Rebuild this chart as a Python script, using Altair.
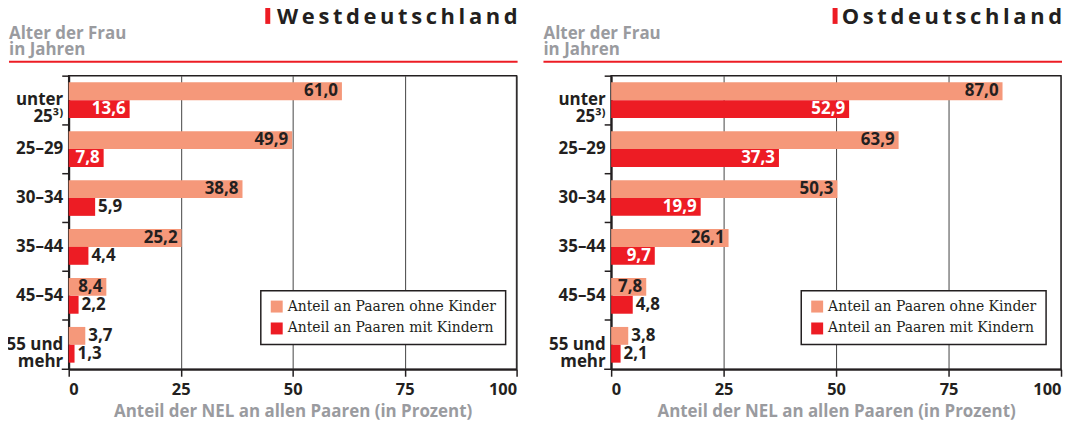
import altair as alt
import pandas as pd

# ---------------- data ----------------
ages = ["unter|25³⁾", "25–29", "30–34", "35–44", "45–54", "55 und|mehr"]
series = ["Anteil an Paaren ohne Kinder", "Anteil an Paaren mit Kindern"]
west_ohne = [61.0, 49.9, 38.8, 25.2, 8.4, 3.7]
west_mit = [13.6, 7.8, 5.9, 4.4, 2.2, 1.3]
ost_ohne = [87.0, 63.9, 50.3, 26.1, 7.8, 3.8]
ost_mit = [52.9, 37.3, 19.9, 9.7, 4.8, 2.1]
x_ticks = [0, 25, 50, 75, 100]
titles = ["Westdeutschland", "Ostdeutschland"]
y_title = "Alter der Frau\nin Jahren"
x_title = "Anteil der NEL an allen Paaren (in Prozent)"

# ---------------- style ----------------
DARK = "#231f20"
GRAY = "#9a9b9f"
RED = "#ed1c24"
SALMON = "#f5987a"
SANS = "Open Sans"
SERIF = "DejaVu Serif"
H = 295


def spaced(s):
    return "\u2009".join(list(s))


def panel(title, ohne, mit, width, bar_x, head_left, legend_x):
    df = pd.DataFrame({
        "age": ages * 2,
        "series": [series[0]] * len(ages) + [series[1]] * len(ages),
        "value": ohne + mit,
    })
    df["label"] = df["value"].map(lambda v: f"{v:.1f}".replace(".", ","))
    base = alt.Chart(df)

    y = alt.Y("age:N", sort=ages,
              scale=alt.Scale(paddingInner=0, paddingOuter=0),
              axis=alt.Axis(title=None, bandPosition=0,
                            labelExpr="split(datum.label, '|')"))
    yoff = alt.YOffset("series:N", sort=series,
                       scale=alt.Scale(paddingInner=0, paddingOuter=0.37))
    x = alt.X("value:Q", scale=alt.Scale(domain=[0, 100], nice=False),
              axis=alt.Axis(values=x_ticks, title=x_title, grid=True))

    bars = base.mark_bar().encode(
        x=x, y=y, yOffset=yoff,
        color=alt.Color("series:N", sort=series,
                        scale=alt.Scale(domain=series, range=[SALMON, RED]),
                        legend=alt.Legend(
                            title=None, orient="none", legendX=legend_x, legendY=216,
                            fillColor="white", strokeColor=DARK,
                            padding=9, symbolType="square", symbolSize=144,
                            symbolStrokeWidth=0, labelFont=SERIF, labelFontSize=14,
                            labelColor=DARK, rowPadding=8, labelOffset=4,
                            labelLimit=400, cornerRadius=0)),
    )

    txt = dict(font=SANS, fontWeight="bold", fontSize=17, baseline="middle")
    inside = base.transform_filter(alt.datum.value >= 7).mark_text(
        align="right", dx=-4, **txt).encode(
        x=x, y=y, yOffset=yoff, text="label:N",
        color=alt.condition(alt.datum.series == series[1],
                            alt.value("white"), alt.value(DARK)))
    outside = base.transform_filter(alt.datum.value < 7).mark_text(
        align="left", dx=3, color=DARK, **txt).encode(
        x=x, y=y, yOffset=yoff, text="label:N")

    one = alt.Chart(pd.DataFrame({"t": [spaced(title)]}))
    title_mark = one.mark_text(
        align="right", baseline="alphabetic", font=SANS, fontWeight="bold",
        fontSize=22, color=DARK).encode(
        text="t:N", x=alt.value(width + 1), y=alt.value(-52))
    title_bar = one.mark_rule(color=RED, strokeWidth=5).encode(
        x=alt.value(bar_x), y=alt.value(-69), y2=alt.value(-52))
    head_line = one.mark_rule(color=RED, strokeWidth=2).encode(
        x=alt.value(head_left), x2=alt.value(width + 1), y=alt.value(-14))
    ytitle = alt.Chart(pd.DataFrame({"t": [y_title]})).mark_text(
        align="left", baseline="alphabetic", font=SANS, fontWeight="bold",
        fontSize=17, lineHeight=16, lineBreak="\n", color=GRAY).encode(
        text="t:N", x=alt.value(head_left), y=alt.value(-37))
    bottom_tick = one.mark_rule(color=DARK, strokeWidth=1.5).encode(
        x=alt.value(-7), x2=alt.value(0), y=alt.value(H))

    return alt.layer(bars, inside, outside, title_mark, title_bar, head_line,
                     ytitle, bottom_tick).properties(width=width, height=H)


left = panel(titles[0], west_ohne, west_mit, 450, 200, -60, 193)
right = panel(titles[1], ost_ohne, ost_mit, 452, 225, -68, 191)

chart = alt.hconcat(left, right, spacing=22).resolve_scale(
    color="independent").resolve_legend(color="independent").properties(
    padding={"left": -3, "top": -6, "right": 0, "bottom": 0}
).configure_view(stroke=DARK, strokeWidth=1.5).configure_legend(
    strokeWidth=1.5
).configure_axis(
    domainColor=DARK, tickColor=DARK, labelColor=DARK,
    labelFont=SANS, labelFontWeight="bold", titleFont=SANS,
    titleFontWeight="bold", titleColor=GRAY,
).configure_axisX(
    domainWidth=2, tickWidth=1.5, tickSize=7, labelFontSize=16.5, labelPadding=5,
    titleFontSize=17, titlePadding=6, gridColor="#444", gridWidth=1,
    gridOpacity=1, labelFlush=True,
).configure_axisY(
    domainWidth=2, tickWidth=1.5, tickSize=7, labelFontSize=17,
    labelPadding=-1, labelLineHeight=17, grid=False,
)

chart.save("out.html", embed_options={"renderer": "svg", "actions": False})
